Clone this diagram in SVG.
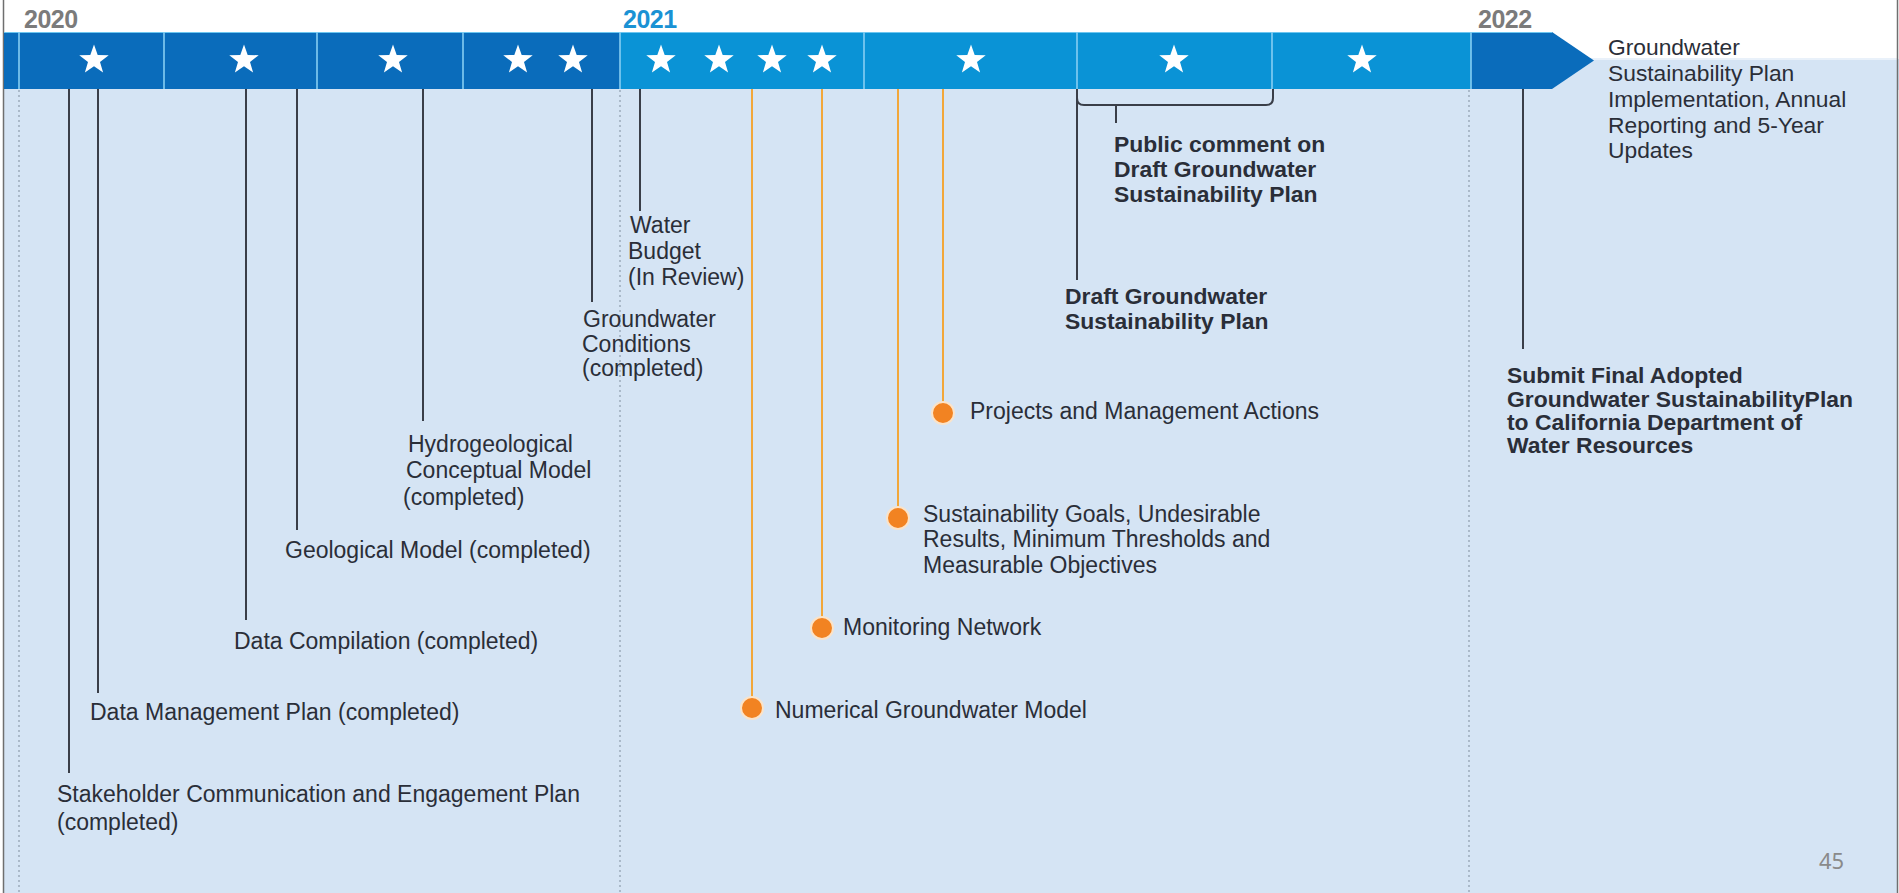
<svg xmlns="http://www.w3.org/2000/svg" xmlns:xlink="http://www.w3.org/1999/xlink" width="1899" height="893" viewBox="0 0 1899 893">
<defs>
<style>
text{font-family:"Liberation Sans",Arial,sans-serif;fill:#2a2e38;font-size:23px}
.b{font-weight:bold;font-size:22.9px}
.r{font-size:22.8px}
.yr{font-weight:bold;font-size:25px;letter-spacing:-0.5px}
.ln{stroke:#3a3e48;stroke-width:2;fill:none}
.or{stroke:#f2a73a;stroke-width:2;fill:none}
.dot{fill:#f28322;stroke:#fbe3c8;stroke-width:2}
.dv{stroke:#86cff3;stroke-width:1.6}
.dash{stroke:#9caabb;stroke-width:1.5;stroke-dasharray:2 3}
.st{fill:#ffffff}
</style>
<path id="star" d="M0,-15.5 L3.7,-5.1 L14.74,-4.79 L6,1.95 L9.11,12.54 L0,6.3 L-9.11,12.54 L-6,1.95 L-14.74,-4.79 L-3.7,-5.1 Z"/>
</defs>

<rect x="0" y="0" width="1899" height="893" fill="#ffffff"/>
<rect x="4" y="89" width="1894" height="804" fill="#d5e4f4"/>
<rect x="1540" y="59" width="1358" height="31" fill="#d5e4f4"/>
<line x1="1540" y1="59" x2="1897" y2="59" stroke="#e9f1fa" stroke-width="2"/>
<line x1="3.5" y1="0" x2="3.5" y2="893" stroke="#6f6f6f" stroke-width="1.5"/>
<line x1="1897.5" y1="0" x2="1897.5" y2="893" stroke="#6f6f6f" stroke-width="1.5"/>

<g id="year-grid">
<line class="dash" x1="19" y1="90" x2="19" y2="893"/>
<line class="dash" x1="620" y1="90" x2="620" y2="893"/>
<line class="dash" x1="1469" y1="90" x2="1469" y2="893"/>
</g>

<g id="timeline-bar">
<rect x="4" y="32" width="616" height="57" fill="#0a6cbb"/>
<rect x="620" y="32" width="851" height="57" fill="#0a93d6"/>
<path d="M1471,32 H1552 L1594,60.5 L1552,89 H1471 Z" fill="#0a6cbb"/>
<line x1="4" y1="32.5" x2="1552" y2="32.5" stroke="#6cc6f0" stroke-width="1"/>
<line class="dv" x1="19" y1="32" x2="19" y2="89"/>
<line class="dv" x1="164" y1="32" x2="164" y2="89"/>
<line class="dv" x1="317" y1="32" x2="317" y2="89"/>
<line class="dv" x1="463" y1="32" x2="463" y2="89"/>
<line class="dv" x1="620" y1="32" x2="620" y2="89"/>
<line class="dv" x1="864" y1="32" x2="864" y2="89"/>
<line class="dv" x1="1077" y1="32" x2="1077" y2="89"/>
<line class="dv" x1="1272" y1="32" x2="1272" y2="89"/>
<line class="dv" x1="1471" y1="32" x2="1471" y2="89"/>
<g class="st">
<use href="#star" x="94" y="60"/>
<use href="#star" x="244" y="60"/>
<use href="#star" x="393" y="60"/>
<use href="#star" x="518" y="60"/>
<use href="#star" x="573" y="60"/>
<use href="#star" x="661" y="60"/>
<use href="#star" x="719" y="60"/>
<use href="#star" x="772" y="60"/>
<use href="#star" x="822" y="60"/>
<use href="#star" x="971" y="60"/>
<use href="#star" x="1174" y="60"/>
<use href="#star" x="1362" y="60"/>
</g>
<text class="yr" x="24" y="28" style="fill:#7b7b7b">2020</text>
<text class="yr" x="623" y="28" style="fill:#1a92d4">2021</text>
<text class="yr" x="1478" y="28" style="fill:#7b7b7b">2022</text>
</g>

<g id="connectors">
<line class="ln" x1="69" y1="89" x2="69" y2="773"/>
<line class="ln" x1="98" y1="89" x2="98" y2="693"/>
<line class="ln" x1="246" y1="89" x2="246" y2="620"/>
<line class="ln" x1="297" y1="89" x2="297" y2="530"/>
<line class="ln" x1="423" y1="89" x2="423" y2="421"/>
<line class="ln" x1="592" y1="89" x2="592" y2="302"/>
<line class="ln" x1="640" y1="89" x2="640" y2="211"/>
<line class="ln" x1="1077" y1="89" x2="1077" y2="280"/>
<path class="ln" d="M1077,89 V98 Q1077,105 1084,105 H1266 Q1273,105 1273,98 V89"/>
<line class="ln" x1="1116" y1="105" x2="1116" y2="123"/>
<line class="ln" x1="1523" y1="89" x2="1523" y2="349"/>
<line class="or" x1="752" y1="89" x2="752" y2="708"/>
<line class="or" x1="822" y1="89" x2="822" y2="628"/>
<line class="or" x1="898" y1="89" x2="898" y2="518"/>
<line class="or" x1="943" y1="89" x2="943" y2="413"/>
</g>

<g id="node-stakeholder">
<text x="57" y="802">Stakeholder Communication and Engagement Plan</text>
<text x="57" y="830">(completed)</text>
</g>
<g id="node-data-management">
<text x="90" y="720">Data Management Plan (completed)</text>
</g>
<g id="node-data-compilation">
<text x="234" y="649">Data Compilation (completed)</text>
</g>
<g id="node-geological">
<text x="285" y="558">Geological Model (completed)</text>
</g>
<g id="node-hydrogeological">
<text x="408" y="452">Hydrogeological</text>
<text x="406" y="478">Conceptual Model</text>
<text x="403" y="505">(completed)</text>
</g>
<g id="node-groundwater-conditions">
<text x="583" y="327">Groundwater</text>
<text x="582" y="352">Conditions</text>
<text x="582" y="376">(completed)</text>
</g>
<g id="node-water-budget">
<text x="630" y="233">Water</text>
<text x="628" y="259">Budget</text>
<text x="628" y="285">(In Review)</text>
</g>
<g id="node-numerical-model">
<circle class="dot" cx="752" cy="708" r="11"/>
<text x="775" y="718">Numerical Groundwater Model</text>
</g>
<g id="node-monitoring">
<circle class="dot" cx="822" cy="628" r="11"/>
<text x="843" y="635">Monitoring Network</text>
</g>
<g id="node-sustainability-goals">
<circle class="dot" cx="898" cy="518" r="11"/>
<text x="923" y="522">Sustainability Goals, Undesirable</text>
<text x="923" y="547">Results, Minimum Thresholds and</text>
<text x="923" y="573">Measurable Objectives</text>
</g>
<g id="node-projects">
<circle class="dot" cx="943" cy="413" r="11"/>
<text x="970" y="419">Projects and Management Actions</text>
</g>
<g id="node-public-comment">
<text class="b" x="1114" y="152">Public comment on</text>
<text class="b" x="1114" y="177">Draft Groundwater</text>
<text class="b" x="1114" y="202">Sustainability Plan</text>
</g>
<g id="node-draft-gsp">
<text class="b" x="1065" y="304">Draft Groundwater</text>
<text class="b" x="1065" y="329">Sustainability Plan</text>
</g>
<g id="node-submit-final">
<text class="b" x="1507" y="383">Submit Final Adopted</text>
<text class="b" x="1507" y="407">Groundwater SustainabilityPlan</text>
<text class="b" x="1507" y="430">to California Department of</text>
<text class="b" x="1507" y="453">Water Resources</text>
</g>
<g id="node-implementation">
<text class="r" x="1608" y="55">Groundwater</text>
<text class="r" x="1608" y="81">Sustainability Plan</text>
<text class="r" x="1608" y="107">Implementation, Annual</text>
<text class="r" x="1608" y="133">Reporting and 5-Year</text>
<text class="r" x="1608" y="158">Updates</text>
</g>
<text x="1819" y="869" style="font-family:'Noto Sans','Open Sans',sans-serif;font-size:22px;fill:#8a8a8a">45</text>
</svg>
